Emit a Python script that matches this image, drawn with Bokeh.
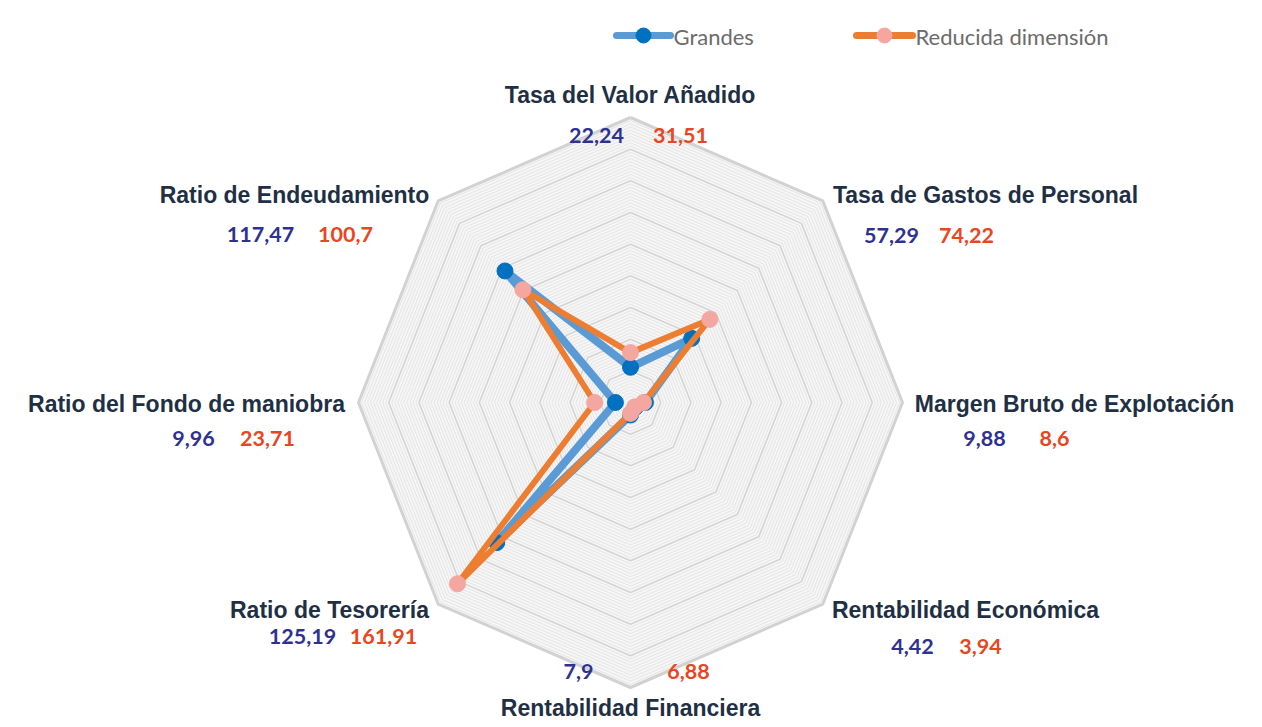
import numpy as np
from bokeh.plotting import figure
from bokeh.models import Range1d
from bokeh.core.properties import value
from bokeh.embed import file_html
from bokeh.resources import INLINE

# ---------------- data ----------------
categories = ["Tasa del Valor Añadido", "Tasa de Gastos de Personal",
              "Margen Bruto de Explotación", "Rentabilidad Económica",
              "Rentabilidad Financiera", "Ratio de Tesorería",
              "Ratio del Fondo de maniobra", "Ratio de Endeudamiento"]
grandes = [22.24, 57.29, 9.88, 4.42, 7.9, 125.19, 9.96, 117.47]
reducida = [31.51, 74.22, 8.6, 3.94, 6.88, 161.91, 23.71, 100.7]
series_names = ["Grandes", "Reducida dimensión"]
r_max = 180
r_major = 20
r_minor = 2

# ---------------- geometry ----------------
W, H = 1246, 719
ORIG = 0                    # screen offset of the frame
CX, CY = 630, 402           # screen centre
PXX = 272 / r_max           # px per unit horizontally
PXY = 285 / r_max           # px per unit vertically

def sx(px):
    return (px - CX) / PXX

def sy(py):
    return (CY - py) / PXY

p = figure(width=W, height=H, output_backend="svg", toolbar_location=None,
           x_axis_location=None, y_axis_location=None, min_border=0,
           x_range=Range1d(sx(ORIG), sx(ORIG + W)), y_range=Range1d(sy(ORIG + H), sy(ORIG)))
p.grid.visible = False
p.outline_line_color = None
p.background_fill_color = "white"
p.border_fill_color = "white"

n = len(categories)
theta = np.arange(n) * 2 * np.pi / n

def poly(r):
    xs = [r * np.sin(t) for t in theta] + [r * np.sin(theta[0])]
    ys = [r * np.cos(t) for t in theta] + [r * np.cos(theta[0])]
    return xs, ys

# background fill
bx, by = poly(r_max)
p.patch(bx, by, fill_color="#f6f6f6", line_color=None)

# minor rings
mxs, mys = [], []
for r in np.arange(r_minor, r_max, r_minor):
    if r % r_major == 0:
        continue
    a, b = poly(r)
    mxs.append(a); mys.append(b)
p.multi_line(mxs, mys, line_color="#e0e0e0", line_width=0.8)

# major rings
Mxs, Mys = [], []
for r in np.arange(r_major, r_max, r_major):
    a, b = poly(r)
    Mxs.append(a); Mys.append(b)
p.multi_line(Mxs, Mys, line_color="#d4d4d4", line_width=1.6)
p.line(bx, by, line_color="#d2d2d2", line_width=3)

# series
def series_xy(vals):
    xs = [v * np.sin(t) for v, t in zip(vals, theta)]
    ys = [v * np.cos(t) for v, t in zip(vals, theta)]
    return xs, ys

gx, gy = series_xy(grandes)
rx, ry = series_xy(reducida)
p.line(gx + [gx[0]], gy + [gy[0]], line_color="#5b9bd5", line_width=8, line_join="round")
p.scatter(gx, gy, size=16, fill_color="#0070c0", line_color="#0070c0")
p.line(rx + [rx[0]], ry + [ry[0]], line_color="#ed7d31", line_width=6, line_join="round")
p.scatter(rx, ry, size=16, fill_color="#f4a7a0", line_color="#f4a7a0")

# category labels (screen centre positions)
cat_pos = [(630, 94), (985, 194), (1074, 403), (965, 609),
           (630, 707), (329, 609), (186, 403), (294, 194)]
val_pos = [((596, 135), (680, 135)), ((891, 235), (966, 235)),
           ((984, 438), (1054, 438)), ((912, 646), (980, 646)),
           ((578, 671), (688, 671)), ((302, 636), (383, 636)),
           ((193, 438), (267, 438)), ((260, 234), (345, 234))]

def fmt(v):
    return str(v).replace(".", ",")

p.text([sx(a) for a, b in cat_pos], [sy(b) for a, b in cat_pos], text=categories,
       text_font=value("Liberation Sans"), text_font_style="bold",
       text_font_size="23px", text_color="#1f3044",
       text_align="center", text_baseline="middle")

p.text([sx(v[0][0]) for v in val_pos], [sy(v[0][1]) for v in val_pos],
       text=[fmt(v) for v in grandes], text_font=value("Lato"), text_font_style="bold",
       text_font_size="21.5px", text_color="#2e3192",
       text_align="center", text_baseline="middle")
p.text([sx(v[1][0]) for v in val_pos], [sy(v[1][1]) for v in val_pos],
       text=[fmt(v) for v in reducida], text_font=value("Lato"), text_font_style="bold",
       text_font_size="21.5px", text_color="#e8461e",
       text_align="center", text_baseline="middle")

# legend (manual)
leg_line = [(616, 670), (856, 912)]
leg_colors = [("#5b9bd5", "#0070c0"), ("#ed7d31", "#f4a7a0")]
for (x0, x1), (lc, mc), name in zip(leg_line, leg_colors, series_names):
    p.line([sx(x0), sx(x1)], [sy(35), sy(35)], line_color=lc, line_width=7, line_cap="round")
    p.scatter([sx((x0 + x1) / 2)], [sy(35)], size=15, fill_color=mc, line_color=mc)
    p.text([sx(x1 + 3)], [sy(36)], text=[name], text_font=value("Lato"),
           text_font_size="22px", text_color="#6b6b6b",
           text_align="left", text_baseline="middle")

open("out.html", "w").write(file_html(p, INLINE))
